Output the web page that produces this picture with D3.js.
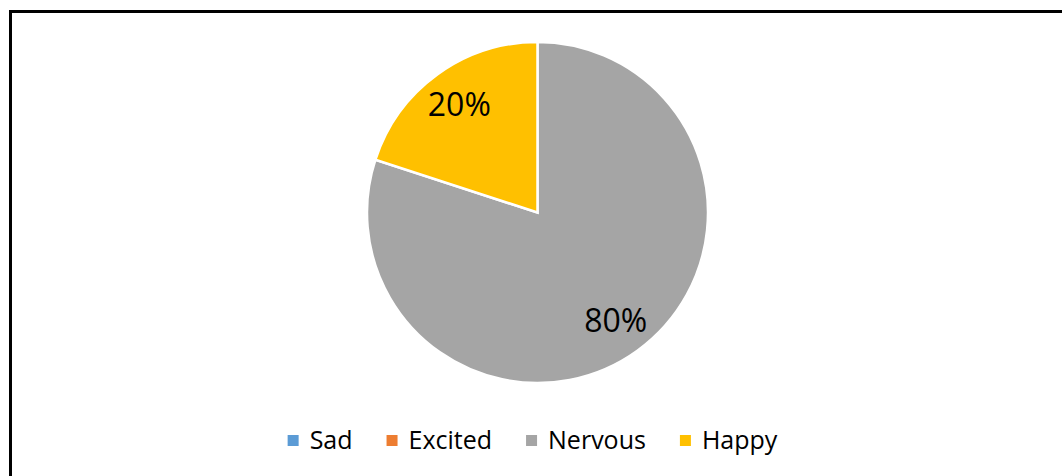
<!DOCTYPE html>
<html>
<head>
<meta charset="utf-8">
<script src="https://cdn.jsdelivr.net/npm/d3@7"></script>
<style>
  body { margin: 0; background: #fff; }
  text { font-family: "Open Sans", sans-serif; }
</style>
</head>
<body>
<svg id="chart"></svg>
<script>
// chart data
var categories = ['Sad', 'Excited', 'Nervous', 'Happy'];
var values = [0, 0, 80, 20];
var colors = ['#5B9BD5', '#ED7D31', '#A5A5A5', '#FFC000'];

var width = 1062, height = 476;
var svg = d3.select('#chart').attr('width', width).attr('height', height);

// outer frame, runs off the right and bottom edge
svg.append('rect')
	.attr('x', 10.5).attr('y', 11.5)
	.attr('width', 1100).attr('height', 500)
	.attr('fill', 'none').attr('stroke', '#000').attr('stroke-width', 3);

var cx = 537.5, cy = 212.5, radius = 170.5;
var total = d3.sum(values);

var pie = d3.pie().sort(null).value(function(d){ return d; });
var arcs = pie(values);
var arc = d3.arc().innerRadius(0).outerRadius(radius);
var labelArc = d3.arc().innerRadius(radius * 0.78).outerRadius(radius * 0.78);

var g = svg.append('g').attr('transform', 'translate(' + cx + ',' + cy + ')');

g.selectAll('.slice')
	.data(arcs.filter(function(d){ return d.value > 0; }))
	.enter().append('path')
	.attr('class', 'slice')
	.attr('d', arc)
	.attr('fill', function(d){ return colors[d.index]; })
	.attr('stroke', '#fff')
	.attr('stroke-width', 2.5)
	.attr('stroke-linejoin', 'miter');

// percentage labels
g.selectAll('.label')
	.data(arcs.filter(function(d){ return d.value > 0; }))
	.enter().append('text')
	.attr('class', 'label')
	.attr('transform', function(d){ return 'translate(' + labelArc.centroid(d) + ')'; })
	.attr('text-anchor', 'middle')
	.attr('dy', '0.36em')
	.attr('font-size', 32)
	.attr('fill', '#000')
	.text(function(d){ return Math.round(d.value / total * 100) + '%'; });

// legend, laid out from measured text widths and centred
var legend = svg.append('g');
var box = 11, boxGap = 11, itemGap = 34, legendCenter = 532.5, baseline = 449;
var items = legend.selectAll('.item')
	.data(categories)
	.enter().append('g')
	.attr('class', 'item');

items.append('text')
	.attr('font-size', 25)
	.attr('fill', '#000')
	.attr('y', baseline)
	.text(function(d){ return d; });

var widths = [];
items.selectAll('text').each(function(){ widths.push(this.getComputedTextLength()); });
var totalW = d3.sum(widths) + categories.length * (box + boxGap) + (categories.length - 1) * itemGap;
var x = legendCenter - totalW / 2;

items.each(function(d, i){
	var item = d3.select(this);
	item.insert('rect', 'text')
		.attr('x', x).attr('y', 435)
		.attr('width', box).attr('height', box)
		.attr('fill', colors[i]);
	item.select('text').attr('x', x + box + boxGap);
	x += box + boxGap + widths[i] + itemGap;
});
</script>
</body>
</html>
